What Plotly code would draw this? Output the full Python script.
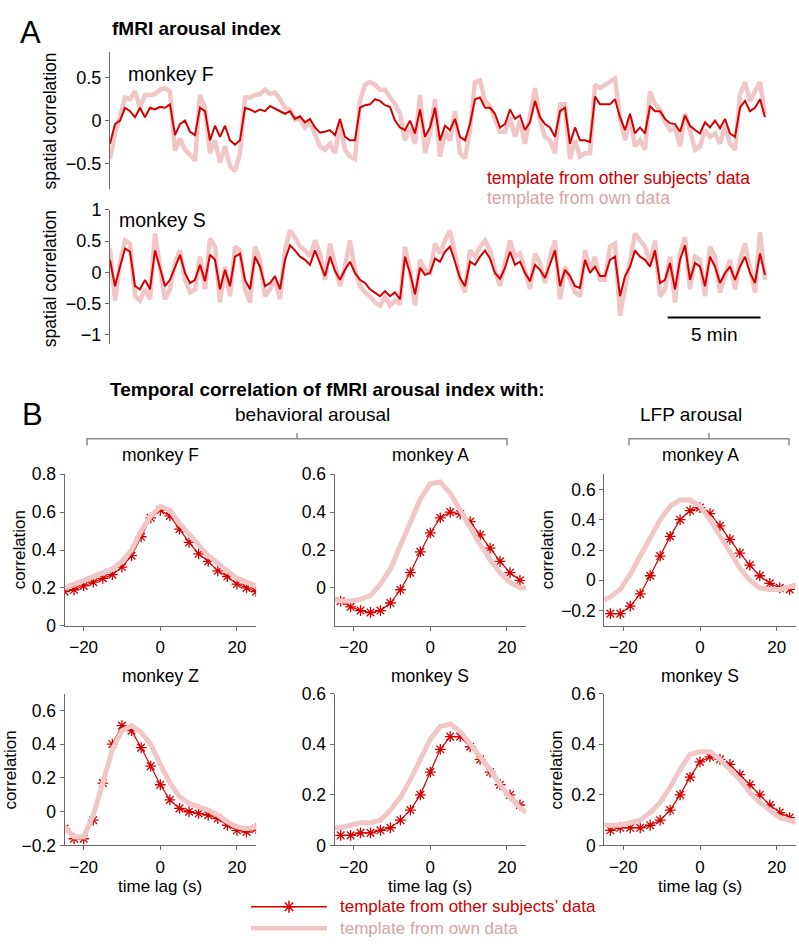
import numpy as np
import plotly.graph_objects as go

W, H = 799, 948

# ---------------- panel A: fMRI arousal index (spatial correlation) ----------------
SAMPLE_MIN = 0.269  # minutes between samples

f_other = [
    -0.27, -0.04, 0.0, 0.15, 0.11, 0.04, 0.15, 0.04, 0.15, 0.13,
    0.16, 0.15, 0.19, -0.17, -0.04, 0.0, -0.13, -0.17, 0.15, 0.11,
    -0.23, -0.06, -0.19, -0.06, -0.23, -0.28, -0.23, 0.15, 0.13, 0.1,
    0.13, 0.11, 0.17, 0.14, 0.11, 0.08, 0.11, 0.02, 0.05, -0.02,
    0.02, -0.08, -0.14, -0.13, -0.11, -0.17, 0.02, -0.19, -0.23, -0.23,
    0.15, 0.18, 0.19, 0.25, 0.23, 0.18, 0.16, 0.0, -0.08,
    -0.11, 0.0, -0.15, 0.13, -0.19, -0.08, 0.15, -0.23, -0.06, -0.11,
    0.02, -0.19, -0.23, -0.04, 0.25, 0.27, 0.15, 0.15, 0.08, -0.08,
    -0.04, 0.13, 0.02, 0.06, -0.11, -0.02, 0.23, 0.04, -0.04, -0.08,
    -0.19, 0.11, 0.15, -0.27, -0.08, -0.23, -0.23, -0.25, 0.28, 0.19,
    0.19, 0.19, 0.25, 0.04, -0.11, 0.08, -0.15, -0.08, -0.15, 0.17,
    0.11, 0.11, 0.02, -0.03, -0.04, -0.13, 0.06, -0.06, -0.11, -0.15,
    -0.02, -0.08, 0.0, -0.09, 0.02, -0.15, -0.19, 0.15, 0.23, 0.11,
    0.15, 0.25, 0.04,
]
f_own = [
    -0.45, -0.15, 0.04, 0.27, 0.25, 0.34, 0.15, 0.3, 0.3, 0.31,
    0.36, 0.38, 0.34, -0.35, -0.21, -0.34, -0.4, -0.47, 0.3, 0.15,
    -0.38, -0.23, -0.49, -0.3, -0.53, -0.59, -0.38, 0.27, 0.27, 0.3,
    0.31, 0.36, 0.31, 0.33, 0.25, 0.15, 0.13, 0.01, 0.02, -0.08,
    -0.02, -0.17, -0.3, -0.34, -0.27, -0.38, -0.04, -0.34, -0.42, -0.45,
    0.23, 0.42, 0.45, 0.42, 0.36, 0.36, 0.28, 0.19, 0.08,
    -0.23, -0.08, -0.27, 0.3, -0.38, -0.15, 0.25, -0.42, -0.13, -0.23,
    0.11, -0.38, -0.44, -0.11, 0.45, 0.47, 0.23, 0.17, 0.0, -0.13,
    -0.13, 0.04, -0.19, 0.0, -0.27, 0.08, 0.38, 0.0, -0.19, -0.23,
    -0.38, 0.19, 0.19, -0.45, -0.23, -0.42, -0.38, -0.38, 0.42, 0.38,
    0.42, 0.45, 0.49, 0.04, -0.23, 0.04, -0.3, -0.23, -0.34, 0.34,
    0.19, 0.13, -0.02, -0.11, -0.08, -0.3, 0.08, -0.11, -0.34, -0.3,
    -0.11, -0.19, -0.15, -0.27, -0.06, -0.27, -0.34, 0.3, 0.45, 0.23,
    0.34, 0.45, 0.08,
]
s_other = [
    0.2, -0.22, 0.09, 0.38, 0.33, -0.22, -0.27, -0.12, -0.27, 0.35,
    0.07, -0.22, -0.12, 0.09, 0.28, -0.01, -0.17, -0.12, 0.12, -0.14,
    0.28, 0.2, -0.27, 0.04, -0.22, 0.25, 0.3, -0.12, -0.27, 0.25,
    0.09, -0.22, -0.17, -0.06, -0.27, 0.2, 0.43, 0.35, 0.25, 0.2,
    0.12, 0.35, 0.15, -0.06, 0.25, 0.02, -0.12, 0.04, 0.17, -0.01,
    -0.12, -0.17, -0.27, -0.32, -0.38, -0.3, -0.38, -0.32, -0.43,
    0.25, -0.01, -0.35, 0.07, -0.04, -0.01, 0.22, 0.17, 0.33, 0.41,
    0.17, -0.09, -0.22, 0.17, 0.12, 0.25, 0.35, 0.22, -0.01, -0.1,
    0.07, 0.33, 0.12, 0.17, -0.01, -0.14, 0.12, 0.04, -0.09, 0.12,
    0.35, -0.22, 0.04, -0.06, -0.22, -0.25, 0.2, -0.01, 0.09, -0.06,
    -0.06, 0.2, 0.25, -0.38, -0.06, 0.09, 0.35, 0.25, 0.2, 0.09,
    0.35, -0.17, -0.12, 0.15, -0.27, 0.2, 0.43, -0.12, 0.15, 0.09,
    -0.22, 0.25, 0.09, -0.17, -0.01, 0.09, -0.12, 0.09, 0.25, -0.01,
    -0.17, 0.3, -0.04,
]
s_own = [
    0.38, -0.45, 0.15, 0.51, 0.46, -0.38, -0.45, -0.27, -0.43, 0.62,
    0.09, -0.43, -0.27, 0.15, 0.35, -0.12, -0.32, -0.27, 0.25, -0.27,
    0.54, 0.41, -0.48, 0.09, -0.38, 0.41, 0.35, -0.27, -0.48, 0.41,
    0.2, -0.38, -0.27, -0.12, -0.43, 0.35, 0.67, 0.56, 0.41, 0.35,
    0.25, 0.51, 0.3, -0.12, 0.46, 0.09, -0.22, 0.09, 0.51, 0.04,
    -0.22, -0.32, -0.38, -0.48, -0.53, -0.4, -0.53, -0.45, -0.51,
    0.41, 0.04, -0.53, 0.2, 0.04, -0.01, 0.46, 0.3, 0.51, 0.67,
    0.3, -0.12, -0.32, 0.35, 0.25, 0.41, 0.51, 0.35, 0.04, -0.22,
    0.15, 0.51, 0.25, 0.3, 0.04, -0.27, 0.3, 0.15, -0.17, 0.25,
    0.51, -0.43, 0.09, -0.12, -0.32, -0.38, 0.35, 0.04, 0.25, -0.12,
    -0.12, 0.41, 0.46, -0.69, -0.22, 0.25, 0.62, 0.51, 0.41, 0.15,
    0.51, -0.38, -0.27, 0.25, -0.48, 0.3, 0.56, -0.27, 0.25, 0.2,
    -0.38, 0.41, 0.25, -0.32, -0.06, 0.2, -0.27, 0.2, 0.46, 0.04,
    -0.32, 0.64, -0.12,
]

# ---------------- panel B: temporal correlation vs time lag (s) ----------------
lag_25 = [-25, -22.5, -20, -17.5, -15, -12.5, -10, -7.5, -5, -2.5, 0,
          2.5, 5, 7.5, 10, 12.5, 15, 17.5, 20, 22.5, 25]
lag_26 = [-23.4, -20.8, -18.2, -15.6, -13.0, -10.4, -7.8, -5.2, -2.6, 0,
          2.6, 5.2, 7.8, 10.4, 13.0, 15.6, 18.2, 20.8, 23.4]
lag_26_full = [-25] + lag_26 + [25]

f_beh_other = [0.18, 0.19, 0.21, 0.23, 0.25, 0.27, 0.31, 0.37, 0.47, 0.57, 0.61,
               0.58, 0.51, 0.44, 0.38, 0.34, 0.29, 0.26, 0.22, 0.2, 0.18]
f_beh_own = [0.2, 0.22, 0.24, 0.26, 0.28, 0.3, 0.34, 0.4, 0.5, 0.58, 0.63,
             0.61, 0.54, 0.48, 0.42, 0.37, 0.33, 0.29, 0.25, 0.23, 0.21]
a_beh_other = [-0.07, -0.1, -0.12, -0.13, -0.12, -0.08, -0.01, 0.08, 0.19, 0.29,
               0.37, 0.4, 0.39, 0.35, 0.28, 0.21, 0.14, 0.08, 0.04]
a_beh_own = [-0.06, -0.07, -0.07, -0.06, -0.04, 0.02, 0.1, 0.22, 0.35, 0.47, 0.55,
             0.56, 0.5, 0.41, 0.31, 0.23, 0.15, 0.08, 0.03, 0.0, 0.0]
a_lfp_other = [-0.22, -0.22, -0.17, -0.09, 0.03, 0.16, 0.29, 0.4, 0.46, 0.48,
               0.44, 0.36, 0.27, 0.18, 0.1, 0.03, -0.02, -0.05, -0.06]
a_lfp_own = [-0.13, -0.11, -0.06, 0.04, 0.16, 0.28, 0.4, 0.49, 0.53, 0.53, 0.49,
             0.4, 0.3, 0.19, 0.08, 0.0, -0.05, -0.06, -0.06, -0.04, -0.03]
z_beh_other = [-0.1, -0.16, -0.16, -0.05, 0.17, 0.4, 0.51, 0.48, 0.38, 0.27, 0.16,
               0.07, 0.02, 0.0, -0.01, -0.02, -0.04, -0.08, -0.11, -0.12, -0.1]
z_beh_own = [-0.09, -0.15, -0.15, -0.02, 0.17, 0.37, 0.48, 0.51, 0.47, 0.4, 0.28,
             0.17, 0.09, 0.05, 0.03, 0.01, -0.02, -0.06, -0.09, -0.1, -0.09]
s_beh_other = [0.04, 0.04, 0.05, 0.05, 0.06, 0.07, 0.1, 0.14, 0.2, 0.29,
               0.38, 0.43, 0.43, 0.39, 0.34, 0.29, 0.24, 0.2, 0.16]
s_beh_own = [0.07, 0.07, 0.08, 0.09, 0.09, 0.1, 0.14, 0.19, 0.26, 0.34, 0.42,
             0.47, 0.48, 0.45, 0.4, 0.35, 0.3, 0.24, 0.19, 0.15, 0.13]
s_lfp_other = [0.06, 0.07, 0.07, 0.07, 0.08, 0.1, 0.14, 0.2, 0.27, 0.33,
               0.35, 0.34, 0.32, 0.28, 0.24, 0.2, 0.16, 0.13, 0.11]
s_lfp_own = [0.08, 0.08, 0.08, 0.09, 0.1, 0.13, 0.17, 0.23, 0.3, 0.36, 0.37,
             0.37, 0.34, 0.3, 0.26, 0.21, 0.17, 0.14, 0.11, 0.1, 0.09]

DARK = "#d40000"
LIGHT = "#f1c6c6"
LEGEND_LIGHT = "#d6a4a4"
AXIS = "#6a6a6a"
FONT = "Liberation Sans, Arial, Helvetica, sans-serif"
FS = 17
CLEAR = "rgba(0,0,0,0)"


def px(x):
    return x / W


def py(y):
    return 1 - y / H


def minus(v):
    s = f"{v:g}"
    return s.replace("-", "\u2212")


def axis_style(size=FS, **kw):
    base = dict(
        showline=True, linecolor=AXIS, linewidth=1, ticks="outside", ticklen=4,
        tickcolor=AXIS, showgrid=False, zeroline=False,
        tickfont=dict(size=size, color="black", family=FONT),
    )
    base.update(kw)
    return base


fig = go.Figure()
layout = {}

# ---- panel A traces
for i, (other, own) in enumerate([(f_other, f_own), (s_other, s_own)], start=1):
    t = np.arange(len(other)) * SAMPLE_MIN
    xa, ya = ("x", "y") if i == 1 else ("x2", "y2")
    fig.add_trace(go.Scatter(x=t, y=own, mode="lines", line=dict(color=LIGHT, width=4.5),
                             xaxis=xa, yaxis=ya, showlegend=False, hoverinfo="skip"))
    fig.add_trace(go.Scatter(x=t, y=other, mode="lines", line=dict(color=DARK, width=2),
                             xaxis=xa, yaxis=ya, showlegend=False, hoverinfo="skip"))

a_xdom = [px(110), px(768)]
layout["xaxis"] = dict(domain=a_xdom, range=[0, 35.4], visible=False, anchor="y")
layout["xaxis2"] = dict(domain=a_xdom, range=[0, 35.4], visible=False, anchor="y2")
f_ticks = [-0.5, 0, 0.5]
s_ticks = [-1, -0.5, 0, 0.5, 1]
layout["yaxis"] = axis_style(size=18, domain=[py(183), py(43)], range=[-0.8, 0.8], anchor="x",
                             tickvals=f_ticks, ticktext=[minus(v) for v in f_ticks])
layout["yaxis2"] = axis_style(size=18, domain=[py(341.6), py(204)], range=[-1.15, 1], anchor="x2",
                              tickvals=s_ticks, ticktext=[minus(v) for v in s_ticks])

# ---- panel B traces
col_dom = [[px(64.5), px(256.1)], [px(334.5), px(526.1)], [px(604.2), px(795.8)]]
row_dom = [[py(629), py(474.3)], [py(853.5), py(698.3)]]

panels = [
    # (row, col, title, lags other, other, lags own, own, y range, y ticks)
    (0, 0, "monkey F", lag_25, f_beh_other, lag_25, f_beh_own, [0, 0.8], [0, 0.2, 0.4, 0.6, 0.8]),
    (0, 1, "monkey A", lag_26, a_beh_other, lag_26_full, a_beh_own, [-0.2, 0.6], [0, 0.2, 0.4, 0.6]),
    (0, 2, "monkey A", lag_26, a_lfp_other, lag_26_full, a_lfp_own, [-0.3, 0.7], [-0.2, 0, 0.2, 0.4, 0.6]),
    (1, 0, "monkey Z", lag_25, z_beh_other, lag_25, z_beh_own, [-0.2, 0.7], [-0.2, 0, 0.2, 0.4, 0.6]),
    (1, 1, "monkey S", lag_26, s_beh_other, lag_26_full, s_beh_own, [0, 0.6], [0, 0.2, 0.4, 0.6]),
    (1, 2, "monkey S", lag_26, s_lfp_other, lag_26_full, s_lfp_own, [0, 0.6], [0, 0.2, 0.4, 0.6]),
]

annotations = []
for k, (r, c, title, lo, other, lw, own, yr, yt) in enumerate(panels, start=3):
    xa, ya = f"x{k}", f"y{k}"
    fig.add_trace(go.Scatter(
        x=lo, y=other, mode="lines+markers", line=dict(color=DARK, width=1.2),
        marker=dict(symbol="asterisk-open", size=9, color=DARK, line=dict(width=1.3, color=DARK)),
        xaxis=xa, yaxis=ya, showlegend=False, hoverinfo="skip"))
    fig.add_trace(go.Scatter(
        x=lw, y=own, mode="lines", line=dict(color=LIGHT, width=5),
        xaxis=xa, yaxis=ya, showlegend=False, hoverinfo="skip"))
    layout[f"xaxis{k}"] = axis_style(size=17, domain=col_dom[c], range=[-25, 25], anchor=ya,
                                     tickvals=[-20, 0, 20], ticktext=["\u221220", "0", "20"],
                                     ticklabelstandoff=2)
    layout[f"yaxis{k}"] = axis_style(size=17.5, domain=row_dom[r], range=yr, anchor=xa,
                                     tickvals=yt, ticktext=[minus(v) for v in yt])
    cx = (col_dom[c][0] + col_dom[c][1]) / 2
    annotations.append(dict(x=cx, y=py(455 if r == 0 else 680), text=title,
                            font=dict(size=17.5)))
    if r == 1:
        annotations.append(dict(x=cx, y=py(895), text="time lag (s)"))

# overlay axis in page pixels for the legend glyph
layout["xaxis9"] = dict(domain=[0, 1], range=[0, W], visible=False, anchor="y9")
layout["yaxis9"] = dict(domain=[0, 1], range=[H, 0], visible=False, anchor="x9")
fig.add_trace(go.Scatter(
    x=[289], y=[916], mode="markers", xaxis="x9", yaxis="y9",
    marker=dict(symbol="asterisk-open", size=10, color=DARK, line=dict(width=1.5, color=DARK)),
    showlegend=False, hoverinfo="skip"))

# ---- text
annotations += [
    dict(x=px(30), y=py(23), text="A", font=dict(size=31)),
    dict(x=px(110), y=py(19), text="<b>fMRI arousal index</b>", xanchor="left",
         font=dict(size=19)),
    dict(x=px(126), y=py(65), text="monkey F", xanchor="left", font=dict(size=19.5)),
    dict(x=px(117), y=py(215), text="monkey S", xanchor="left", font=dict(size=19.5)),
    dict(x=px(50), y=py(114), text="spatial correlation", textangle=-90, font=dict(size=17.5)),
    dict(x=px(50), y=py(275), text="spatial correlation", textangle=-90, font=dict(size=17.5)),
    dict(x=px(485), y=py(172), text="template from other subjects\u2019 data", xanchor="left",
         font=dict(color="#cc0000", size=17.5)),
    dict(x=px(485), y=py(192), text="template from own data", xanchor="left",
         font=dict(color=LEGEND_LIGHT, size=17.5)),
    dict(x=32.5, xref="x2", y=py(332), text="5 min", font=dict(size=19)),
    dict(x=px(32), y=py(413), text="B", font=dict(size=31)),
    dict(x=px(327), y=py(388), text="<b>Temporal correlation of fMRI arousal index with:</b>",
         font=dict(size=19)),
    dict(x=px(312), y=py(413), text="behavioral arousal", font=dict(size=19)),
    dict(x=px(691), y=py(413), text="LFP arousal", font=dict(size=19)),
    dict(x=px(19), y=py(552), text="correlation", textangle=-90),
    dict(x=px(547), y=py(552), text="correlation", textangle=-90),
    dict(x=px(11), y=py(777), text="correlation", textangle=-90),
    dict(x=px(557), y=py(777), text="correlation", textangle=-90),
    dict(x=px(338), y=py(916), text="template from other subjects\u2019 data", xanchor="left",
         font=dict(color="#cc0000")),
    dict(x=px(338), y=py(938), text="template from own data", xanchor="left",
         font=dict(color=LEGEND_LIGHT)),
]
for a in annotations:
    a.setdefault("xref", "paper")
    a.setdefault("yref", "paper")
    a.setdefault("xanchor", "center")
    a.setdefault("yanchor", "middle")
    a.setdefault("showarrow", False)
    f = dict(size=FS, color="black", family=FONT)
    f.update(a.get("font", {}))
    a["font"] = f


def seg_path(points):
    return "M " + " L ".join(f"{px(x):.5f},{py(y):.5f}" for x, y in points)


BR = dict(color="#8c8c8c", width=1.5)
shapes = [
    dict(type="path", xref="paper", yref="paper", line=BR,
         path=seg_path([(87, 445), (87, 438), (507, 438), (507, 445)])),
    dict(type="path", xref="paper", yref="paper", line=BR,
         path=seg_path([(297, 438), (297, 432)])),
    dict(type="path", xref="paper", yref="paper", line=BR,
         path=seg_path([(629, 445), (629, 438), (789, 438), (789, 445)])),
    dict(type="path", xref="paper", yref="paper", line=BR,
         path=seg_path([(709, 438), (709, 432)])),
    # 5 min scale bar
    dict(type="line", xref="x2", yref="paper", x0=30, x1=35, y0=py(314), y1=py(314),
         line=dict(color="black", width=2)),
    # panel B legend lines
    dict(type="line", xref="paper", yref="paper", x0=px(251), x1=px(327), y0=py(916), y1=py(916),
         line=dict(color=DARK, width=1.5)),
    dict(type="line", xref="paper", yref="paper", x0=px(251), x1=px(327), y0=py(938), y1=py(938),
         line=dict(color=LIGHT, width=4.5)),
]

fig.update_layout(
    width=W, height=H,
    margin=dict(l=0, r=0, t=0, b=0),
    plot_bgcolor=CLEAR, paper_bgcolor="white",
    font=dict(family=FONT, size=FS, color="black"),
    annotations=annotations,
    shapes=shapes,
    showlegend=False,
    **layout,
)

fig.write_html("out.html", config={"displayModeBar": False},
               post_script="document.body.style.margin='0px';")
